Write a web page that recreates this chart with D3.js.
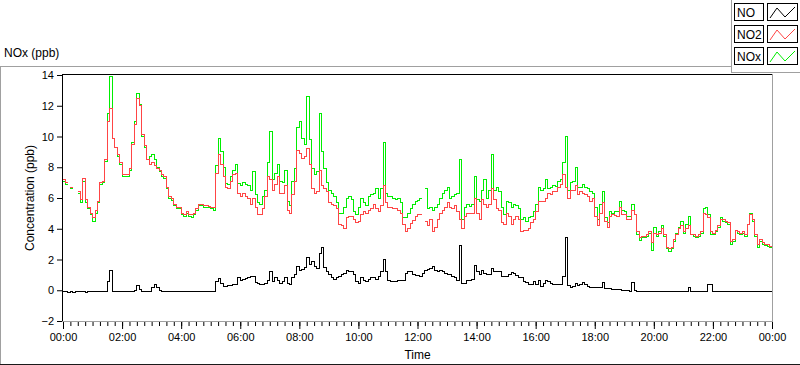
<!DOCTYPE html>
<html>
<head>
<meta charset="utf-8">
<script src="https://cdn.jsdelivr.net/npm/d3@7"></script>
<style>
  body { margin: 0; background: #fff; }
  svg { display: block; font-family: "Liberation Sans", Arial, sans-serif; }
</style>
</head>
<body>
<svg class="chart" width="800" height="365"></svg>
<script>
// DATA ////////////////////////////////////////
// one reading every 5 minutes, 00:00 -> 24:00 (289 values), null = no data
const no2 = [
  7.2, 7.0, null, 6.7, null, null, 6.4, 5.9, 7.3, 5.9, 5.4, 5.0,
  4.7, 5.2, 5.8, 7.0, 7.1, 8.5, 11.0, 11.8, 9.9, 9.3, 8.8, 8.3,
  7.5, 7.5, 7.5, 7.9, 9.5, 10.8, 12.5, 12.0, 10.1, 9.4, 8.5, 8.2,
  8.3, 8.1, 7.95, 7.8, 7.5, 7.4, 6.7, 6.1, 5.95, 5.6, 5.4, 5.4,
  5.0, 4.9, 5.1, 4.9, 4.9, 5.0, 5.3, 5.6, 5.6, 5.5, 5.5, 5.45,
  5.4, 5.4, 7.6, 8.8, 8.2, 7.4, 6.7, 6.6, 7.1, 7.5, 7.6, 6.3,
  6.1, 6.3, 6.1, 6.0, 5.6, 6.0, 5.4, 4.9, 4.9, 5.3, 6.1, 7.4,
  7.2, 6.5, 6.9, 7.4, 6.3, 6.3, 6.8, 5.2, 5.0, 6.2, 7.1, 9.1,
  8.9, 8.6, 8.7, 9.2, 8.2, 6.6, 6.3, 6.4, 7.8, 6.8, 6.6, 6.4,
  5.7, 5.6, 5.5, 5.3, 4.3, 4.2, 4.0, 4.7, 4.8, 4.8, 4.6, 4.4,
  4.5, 4.9, 5.1, 5.0, 5.2, 5.3, 5.6, 5.3, 5.1, 5.5, 6.8, 5.7,
  5.4, 5.4, 5.3, 5.3, 5.2, 5.0, 4.3, 3.8, 4.0, 4.35, 4.55, 4.8,
  4.9, 4.95, null, 4.5, 4.2, 4.6, 3.8, 4.1, 4.6, 5.0, 5.2, 5.4,
  5.7, 5.4, 5.3, 5.5, 5.1, 4.6, 4.0, 4.8, 5.0, 5.0, 5.0, 6.0,
  5.0, 4.6, 5.9, 5.6, 5.4, 5.6, 6.6, 5.9, 5.3, 5.2, 4.4, 4.3,
  5.0, 4.8, 4.3, 4.6, 4.8, 4.6, 3.8, 3.9, 3.9, 4.0, 4.4, 4.6,
  5.1, 5.8, 5.8, 5.8, 6.0, 6.3, 6.2, 6.4, 6.4, 6.7, 6.9, 7.5,
  6.7, 6.0, 6.5, 6.5, 6.8, 6.2, 6.4, 6.3, 6.2, 6.1, 5.8, 6.0,
  4.8, 4.2, 5.0, 5.7, 4.5, 4.1, 4.8, 4.9, 4.85, 4.8, 5.4, 4.9,
  4.9, 4.6, 4.6, 5.2, 4.9, 3.8, 3.4, 3.5, 3.5, 3.6, 3.8, 3.1,
  3.7, 3.6, 3.7, 4.0, 3.6, 2.8, 2.7, 2.8, 3.3, 3.6, 4.0, 4.2,
  3.8, 4.0, 4.2, 3.6, 3.6, 3.5, 3.6, 3.8, 5.0, 4.9, 4.7, 3.8,
  3.7, 3.9, 4.2, 4.6, 4.6, 4.5, 4.4, 3.2, 3.3, 3.9, 3.8, 3.7,
  3.8, 3.6, 4.3, 4.9, 4.6, 3.6, 3.0, 3.3, 3.1, 3.0, 2.95, 2.85, 2.65
];

const nox = [
  7.1, 6.9, null, 6.6, null, null, 6.3, 5.7, 7.1, 5.7, 5.3, 4.9,
  4.5, 5.0, 5.7, 6.9, 7.0, 8.4, 11.5, 13.9, 9.9, 9.3, 8.7, 8.2,
  7.4, 7.4, 7.4, 7.8, 9.6, 11.0, 12.8, 12.1, 10.0, 9.3, 8.5, 8.7,
  8.8, 8.5, 8.0, 7.7, 7.4, 7.3, 6.6, 6.0, 5.85, 5.5, 5.3, 5.3,
  4.9, 4.8, 5.0, 4.8, 4.7, 4.9, 5.2, 5.5, 5.5, 5.4, 5.4, 5.35,
  5.3, 5.2, 8.1, 9.9, 9.0, 8.0, 6.95, 6.9, 7.4, 7.8, 8.2, 6.95,
  6.8, 7.0, 6.9, 6.8, 6.5, 7.7, 6.2, 5.7, 5.6, 6.1, 6.5, 8.3,
  10.3, 7.2, 7.6, 8.2, 7.1, 7.0, 7.8, 5.8, 5.5, 7.1, 7.9, 10.6,
  11.0, 9.9, 9.5, 12.6, 9.8, 7.9, 7.5, 7.7, 11.5, 9.0, 7.9, 7.0,
  6.5, 6.3, 6.1, 5.7, 5.0, 5.0, 5.4, 6.0, 6.1, 5.9, 5.1, 4.9,
  5.4, 6.0, 5.7, 5.5, 6.1, 6.2, 6.3, 6.6, 6.0, 6.6, 9.6, 6.3,
  6.1, 6.1, 6.0, 5.9, 6.0, 5.7, 4.7, 4.7, 5.0, 5.3, 5.6, 5.8,
  5.85, 6.0, null, 6.6, 5.3, 5.4, 5.2, 5.4, 5.6, 6.0, 6.3, 6.5,
  6.7, 6.0, 6.1, 6.2, 6.3, 8.5, 4.6, 5.4, 5.6, 5.45, 5.6, 7.4,
  5.9, 5.8, 6.5, 7.2, 6.0, 6.5, 8.8, 6.5, 6.7, 6.4, 5.4, 4.9,
  5.8, 5.7, 5.4, 5.6, 5.5, 5.3, 4.6, 4.7, 4.5, 4.7, 4.8, 5.1,
  5.6, 6.7, 6.5, 6.6, 7.2, 6.6, 6.7, 6.8, 6.75, 7.1, 7.2, 8.3,
  10.0, 6.5, 7.0, 7.1, 8.0, 6.7, 6.7, 6.9, 6.7, 6.6, 6.4, 6.3,
  5.4, 4.6, 5.6, 6.4, 4.7, 4.4, 5.1, 5.0, 5.1, 5.1, 5.8, 5.2,
  5.1, 4.8, 4.8, 5.6, 4.9, 3.6, 3.25, 3.4, 3.45, 3.5, 3.7, 2.6,
  4.1, 3.5, 3.8, 4.2, 3.5, 2.7, 2.5, 2.7, 3.2, 3.7, 4.1, 4.5,
  3.7, 4.3, 4.8, 3.6, 3.5, 3.4, 3.5, 3.7, 5.3, 5.4, 4.9, 3.6,
  3.6, 3.8, 4.1, 4.7, 4.5, 4.4, 4.3, 3.0, 3.2, 3.9, 3.7, 3.6,
  3.7, 3.5, 4.3, 5.0, 4.5, 3.5, 2.8, 3.2, 3.0, 2.9, 2.85, 2.75, 2.6
];

const no = [
  -0.1, -0.1, -0.12, -0.1, -0.12, -0.1, -0.1, -0.08, -0.1, -0.12, -0.1, -0.1,
  -0.1, -0.1, -0.08, -0.1, -0.1, -0.05, 0.6, 1.3, -0.05, -0.1, -0.1, -0.08,
  -0.1, -0.08, -0.1, -0.1, -0.05, 0.0, 0.3, 0.05, -0.05, -0.08, -0.1, -0.05,
  0.2, 0.35, 0.2, 0.0, -0.05, -0.1, -0.1, -0.1, -0.08, -0.1, -0.1, -0.1,
  -0.1, -0.1, -0.1, -0.1, -0.1, -0.1, -0.1, -0.05, -0.1, -0.1, -0.1, -0.1,
  -0.1, -0.1, 0.55, 0.75, 0.45, 0.25, 0.25, 0.3, 0.3, 0.35, 0.35, 0.8,
  0.65, 0.7, 0.75, 0.85, 0.9, 0.9, 0.5, 0.45, 0.35, 0.35, 0.45, 0.65,
  1.2, 0.55, 0.8, 0.65, 0.45, 0.55, 0.85, 0.45, 0.4, 0.8, 1.0, 1.55,
  1.3, 1.35, 1.5, 2.1, 1.65, 1.85, 1.55, 1.4, 2.4, 2.8, 1.5, 1.2,
  1.0, 0.8, 0.7, 0.8, 0.9, 1.0, 1.1, 1.3, 1.2, 1.2, 1.0, 0.55,
  0.45, 0.8, 0.65, 0.55, 0.7, 0.8, 0.8, 0.7, 0.9, 1.2, 2.0, 1.2,
  0.65, 0.6, 0.6, 0.6, 0.65, 0.65, 0.65, 1.1, 1.2, 1.2, 1.05, 0.95,
  0.95, 0.9, 1.1, 1.3, 1.35, 1.4, 1.55, 1.3, 1.2, 1.3, 1.2, 1.1,
  1.05, 1.0, 0.9, 0.8, 0.65, 2.9, 0.45, 0.45, 0.65, 0.65, 0.7, 1.6,
  1.2, 1.05, 1.3, 1.1, 1.0, 1.0, 1.4, 1.2, 1.2, 1.2, 0.9, 0.9,
  0.9, 1.05, 1.15, 1.1, 0.95, 0.85, 0.8, 0.6, 0.5, 0.4, 0.35, 0.55,
  0.35, 0.65, 0.25, 0.45, 0.65, 0.55, 0.45, 0.4, 0.35, 0.35, 0.4, 0.9,
  3.4, 0.3, 0.2, 0.25, 0.45, 0.3, 0.35, 0.5, 0.35, 0.25, 0.2, 0.15,
  0.15, 0.15, 0.15, 0.5, 0.1, 0.1, 0.1, 0.05, 0.05, 0.05, 0.05, 0.0,
  0.0, 0.0, -0.05, 0.5, 0.0, -0.1, -0.1, -0.1, -0.1, -0.1, -0.1, -0.1,
  -0.05, -0.1, -0.1, -0.1, -0.1, -0.1, -0.1, -0.1, -0.1, -0.1, -0.1, -0.05,
  -0.1, -0.1, 0.2, -0.1, -0.1, -0.1, -0.1, -0.1, -0.05, -0.1, 0.4, 0.4,
  -0.1, -0.1, -0.1, -0.08, -0.1, -0.1, -0.1, -0.1, -0.1, -0.1, -0.1, -0.1,
  -0.1, -0.1, -0.1, -0.1, -0.1, -0.1, -0.1, -0.1, -0.1, -0.1, -0.1, -0.1, -0.1
];

const times = d3.range(0, 1441, 5); // minutes after midnight
const hourLabels = ["00:00", "02:00", "04:00", "06:00", "08:00", "10:00", "12:00",
  "14:00", "16:00", "18:00", "20:00", "22:00", "00:00"];
const yTicks = [-2, 0, 2, 4, 6, 8, 10, 12, 14];
const legendNames = ["NO", "NO2", "NOx"];
const legendColors = ["#000000", "#ff4545", "#00ee00"];

// SETUP ///////////////////////////////////////
const svg = d3.select(".chart");
const plot = { left: 63, right: 772, top: 75, bottom: 321 };

const x = d3.scaleLinear().domain([0, 1440]).range([plot.left, plot.right]);
const y = d3.scaleLinear().domain([-2, 14]).range([plot.bottom, plot.top]);

const hline = (x1, x2, yy, c) =>
  svg.append("line").attr("x1", x1).attr("x2", x2).attr("y1", yy).attr("y2", yy)
    .attr("stroke", c).attr("shape-rendering", "crispEdges");
const vline = (xx, y1, y2, c) =>
  svg.append("line").attr("x1", xx).attr("x2", xx).attr("y1", y1).attr("y2", y2)
    .attr("stroke", c).attr("shape-rendering", "crispEdges");

// outer chart frame
hline(0, 731, 66.5, "#a0a0a0");
vline(0.5, 66, 365, "#a0a0a0");
hline(0, 800, 364.5, "#1a1a1a");

svg.append("text")
  .attr("x", 4).attr("y", 57)
  .style("font-size", "12px")
  .text("NOx (ppb)");

// AXES ////////////////////////////////////////
const yAxis = svg.append("g")
  .attr("transform", `translate(${plot.left - 1},0)`)
  .call(d3.axisLeft(y).tickValues(yTicks).tickSize(5).tickPadding(3));
yAxis.select(".domain").remove();
yAxis.selectAll("text").style("font-size", "11px").attr("fill", "#000");

const xMinor = svg.append("g")
  .attr("transform", `translate(0,${plot.bottom + 1})`)
  .call(d3.axisBottom(x).tickValues(d3.range(0, 1441, 15)).tickSize(4).tickFormat(""));
xMinor.select(".domain").remove();

const xMajor = svg.append("g")
  .attr("transform", `translate(0,${plot.bottom + 1})`)
  .call(d3.axisBottom(x).tickValues(d3.range(0, 1441, 120)).tickSize(7).tickPadding(4)
    .tickFormat((d, i) => hourLabels[i]));
xMajor.select(".domain").remove();
xMajor.selectAll("text").style("font-size", "11px").attr("fill", "#000");

svg.append("text")
  .attr("transform", `translate(34,${(plot.top + plot.bottom) / 2}) rotate(-90)`)
  .attr("text-anchor", "middle")
  .style("font-size", "12px")
  .text("Concentration (ppb)");

svg.append("text")
  .attr("x", (plot.left + plot.right) / 2).attr("y", 359)
  .attr("text-anchor", "middle")
  .style("font-size", "12px")
  .text("Time");

// LINES ///////////////////////////////////////
// hold the last value of a run so isolated readings still show as a step
const toPoints = (vals) => {
  const pts = [];
  vals.forEach((v, i) => {
    pts.push({ t: times[i], v });
    if (v != null && i < vals.length - 1 && vals[i + 1] == null) {
      pts.push({ t: times[i + 1], v });
    }
  });
  return pts;
};

const line = d3.line()
  .defined((d) => d.v != null)
  .x((d) => x(d.t))
  .y((d) => y(d.v))
  .curve(d3.curveStepAfter);

const series = [
  { name: "NOx", values: nox, color: legendColors[2] },
  { name: "NO2", values: no2, color: legendColors[1] },
  { name: "NO", values: no, color: legendColors[0] },
];

svg.append("g")
  .selectAll("path")
  .data(series)
  .enter()
  .append("path")
  .attr("d", (d) => line(toPoints(d.values)))
  .attr("fill", "none")
  .attr("stroke", (d) => d.color)
  .attr("stroke-width", 1)
  .attr("shape-rendering", "crispEdges");

// plot frame (dark top/left, light bottom/right)
hline(plot.left - 1, plot.right + 1, plot.top - 0.5, "#000");
vline(plot.left - 0.5, plot.top - 1, plot.bottom + 1, "#000");
hline(plot.left - 1, plot.right + 1, plot.bottom + 0.5, "#a0a0a0");
vline(plot.right + 0.5, plot.top - 1, plot.bottom + 1, "#a0a0a0");

// LEGEND //////////////////////////////////////
svg.append("rect").attr("x", 732).attr("y", 0).attr("width", 68).attr("height", 72).attr("fill", "#fff");
vline(731.5, 0, 73, "#a0a0a0");
hline(731, 800, 72.5, "#a0a0a0");

const swatch = d3.line();
const legend = svg.append("g")
  .selectAll("g")
  .data(legendNames)
  .enter()
  .append("g")
  .attr("transform", (d, i) => `translate(0,${3 + i * 22})`);

legend.append("rect")
  .attr("x", 734.5).attr("y", 0.5).attr("width", 29).attr("height", 17)
  .attr("fill", "#fff").attr("stroke", "#000").attr("shape-rendering", "crispEdges");
legend.append("text")
  .attr("x", 737).attr("y", 13.5)
  .style("font-size", "12px")
  .text((d) => d);
legend.append("rect")
  .attr("x", 767.5).attr("y", 0.5).attr("width", 30).attr("height", 17)
  .attr("fill", "#fff").attr("stroke", "#000").attr("shape-rendering", "crispEdges");
legend.append("path")
  .attr("d", swatch([[770, 15], [777, 5], [785, 14], [795, 4]]))
  .attr("fill", "none")
  .attr("stroke", (d, i) => legendColors[i])
  .attr("stroke-width", 1);
</script>
</body>
</html>
